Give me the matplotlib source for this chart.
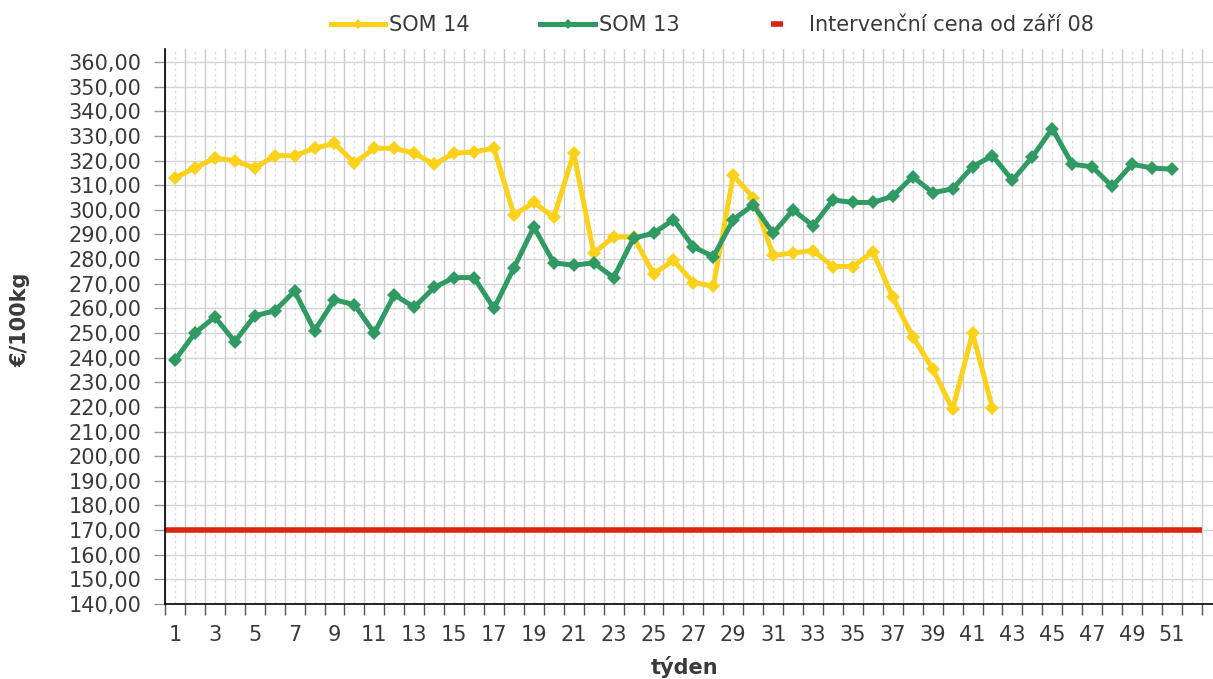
import matplotlib
matplotlib.use("Agg")
import matplotlib.pyplot as plt
from matplotlib.lines import Line2D
import numpy as np

weeks_14 = list(range(1, 43))
som14 = [313, 317, 321, 320, 317, 322, 322, 325, 327, 319,
         325, 325, 323, 318.5, 323, 323.5, 325, 298, 303, 297,
         323, 282.5, 289, 289, 274, 279.5, 270.5, 269, 314, 305,
         281.5, 282.5, 283.5, 277, 277, 283, 264.5, 248.5, 235.5, 219,
         250, 219.5]

weeks_13 = list(range(1, 52))
som13 = [239, 250, 256.5, 246.5, 257, 259, 267, 251, 263.5, 261.5,
         250, 265.5, 260.5, 268.5, 272.5, 272.5, 260, 276.5, 293, 278.5,
         277.5, 278.5, 272.5, 288.5, 290.5, 296, 285, 281, 296, 302,
         290.5, 300, 293.5, 304, 303, 303, 305.5, 313.5, 307, 308.5,
         317.5, 322, 312, 321.5, 333, 318.5, 317.5, 309.5, 318.5, 317, 316.5]

intervention_price = 170
n_weeks = 52

series_labels = ["SOM 14", "SOM 13", "Intervenční cena od září 08"]
y_ticks = list(range(140, 361, 10))
x_label = "týden"
y_label = "€/100kg"

c_yellow = "#FCD11A"
c_green = "#2F9A62"
c_red = "#DC2412"
txt_color = "#3a3a3a"

fig = plt.figure(figsize=(12.13, 6.79), dpi=100)
ax = fig.add_axes([165/1213, 1-604/679, (1213-165)/1213, (604-49)/679])

fs = 15

ax.set_xlim(0.5, 53.06)
ax.set_ylim(140, 365.3)

# ticks and grid
ax.set_xticks(np.arange(0.5, n_weeks + 1, 1.0))
ax.set_xticks(np.arange(1, n_weeks + 1), minor=True)
ax.set_xticklabels([])
ax.set_xticklabels([str(w) if w % 2 == 1 else "" for w in range(1, n_weeks + 1)],
                   minor=True, fontsize=fs, color=txt_color)
ax.tick_params(axis="x", which="major", length=8, width=1, color="#555555", direction="out")
ax.tick_params(axis="x", which="minor", length=0, pad=15)
ax.set_yticks(y_ticks)
ax.set_yticklabels([f"{v:.2f}".replace(".", ",") for v in y_ticks], fontsize=fs, color=txt_color)
ax.tick_params(axis="y", which="major", length=8, width=1, color="#999999", pad=9)

ax.grid(axis="x", which="major", color="#cbcbcb", lw=1, ls="-", zorder=0)
ax.grid(axis="x", which="minor", color="#dddddd", lw=1, ls=(0, (2, 2)), zorder=0)
ax.grid(axis="y", which="major", color="#d4d4d4", lw=1.0, ls="-", zorder=0)
ax.set_axisbelow(True)

for s in ["top", "right"]:
    ax.spines[s].set_visible(False)
for s in ["left", "bottom"]:
    ax.spines[s].set_color("black")
    ax.spines[s].set_linewidth(1.2)

# red intervention line
ax.hlines(intervention_price, 0.5, n_weeks + 0.5, color=c_red, lw=4, zorder=2)

ax.plot(weeks_14, som14, color=c_yellow, lw=3.6, marker="D", markersize=7.5,
        markeredgewidth=0, zorder=3, clip_on=False)
ax.plot(weeks_13, som13, color=c_green, lw=3.6, marker="D", markersize=7.5,
        markeredgewidth=0, zorder=4, clip_on=False)

handles = [
    Line2D([], [], color=c_yellow, lw=3.6, marker="D", markersize=5, markeredgewidth=0),
    Line2D([], [], color=c_green, lw=3.6, marker="D", markersize=5, markeredgewidth=0),
    Line2D([], [], color=c_red, lw=0, marker="_", markersize=9, markeredgewidth=4),
]
leg = fig.legend(handles, series_labels, loc="upper center", bbox_to_anchor=(0.587, 1.005),
                 ncol=3, frameon=False, fontsize=fs, handlelength=2.6, columnspacing=3.4,
                 handletextpad=0.2)
for t in leg.get_texts():
    t.set_color(txt_color)

fig.text(20/1213, 1-320/679, y_label, rotation=90, ha="center", va="center",
         fontsize=fs, fontweight="bold", color=txt_color)
fig.text(685/1213, 1-667/679, x_label, ha="center", va="center",
         fontsize=fs, fontweight="bold", color=txt_color)

fig.savefig("out.png", dpi=100)
